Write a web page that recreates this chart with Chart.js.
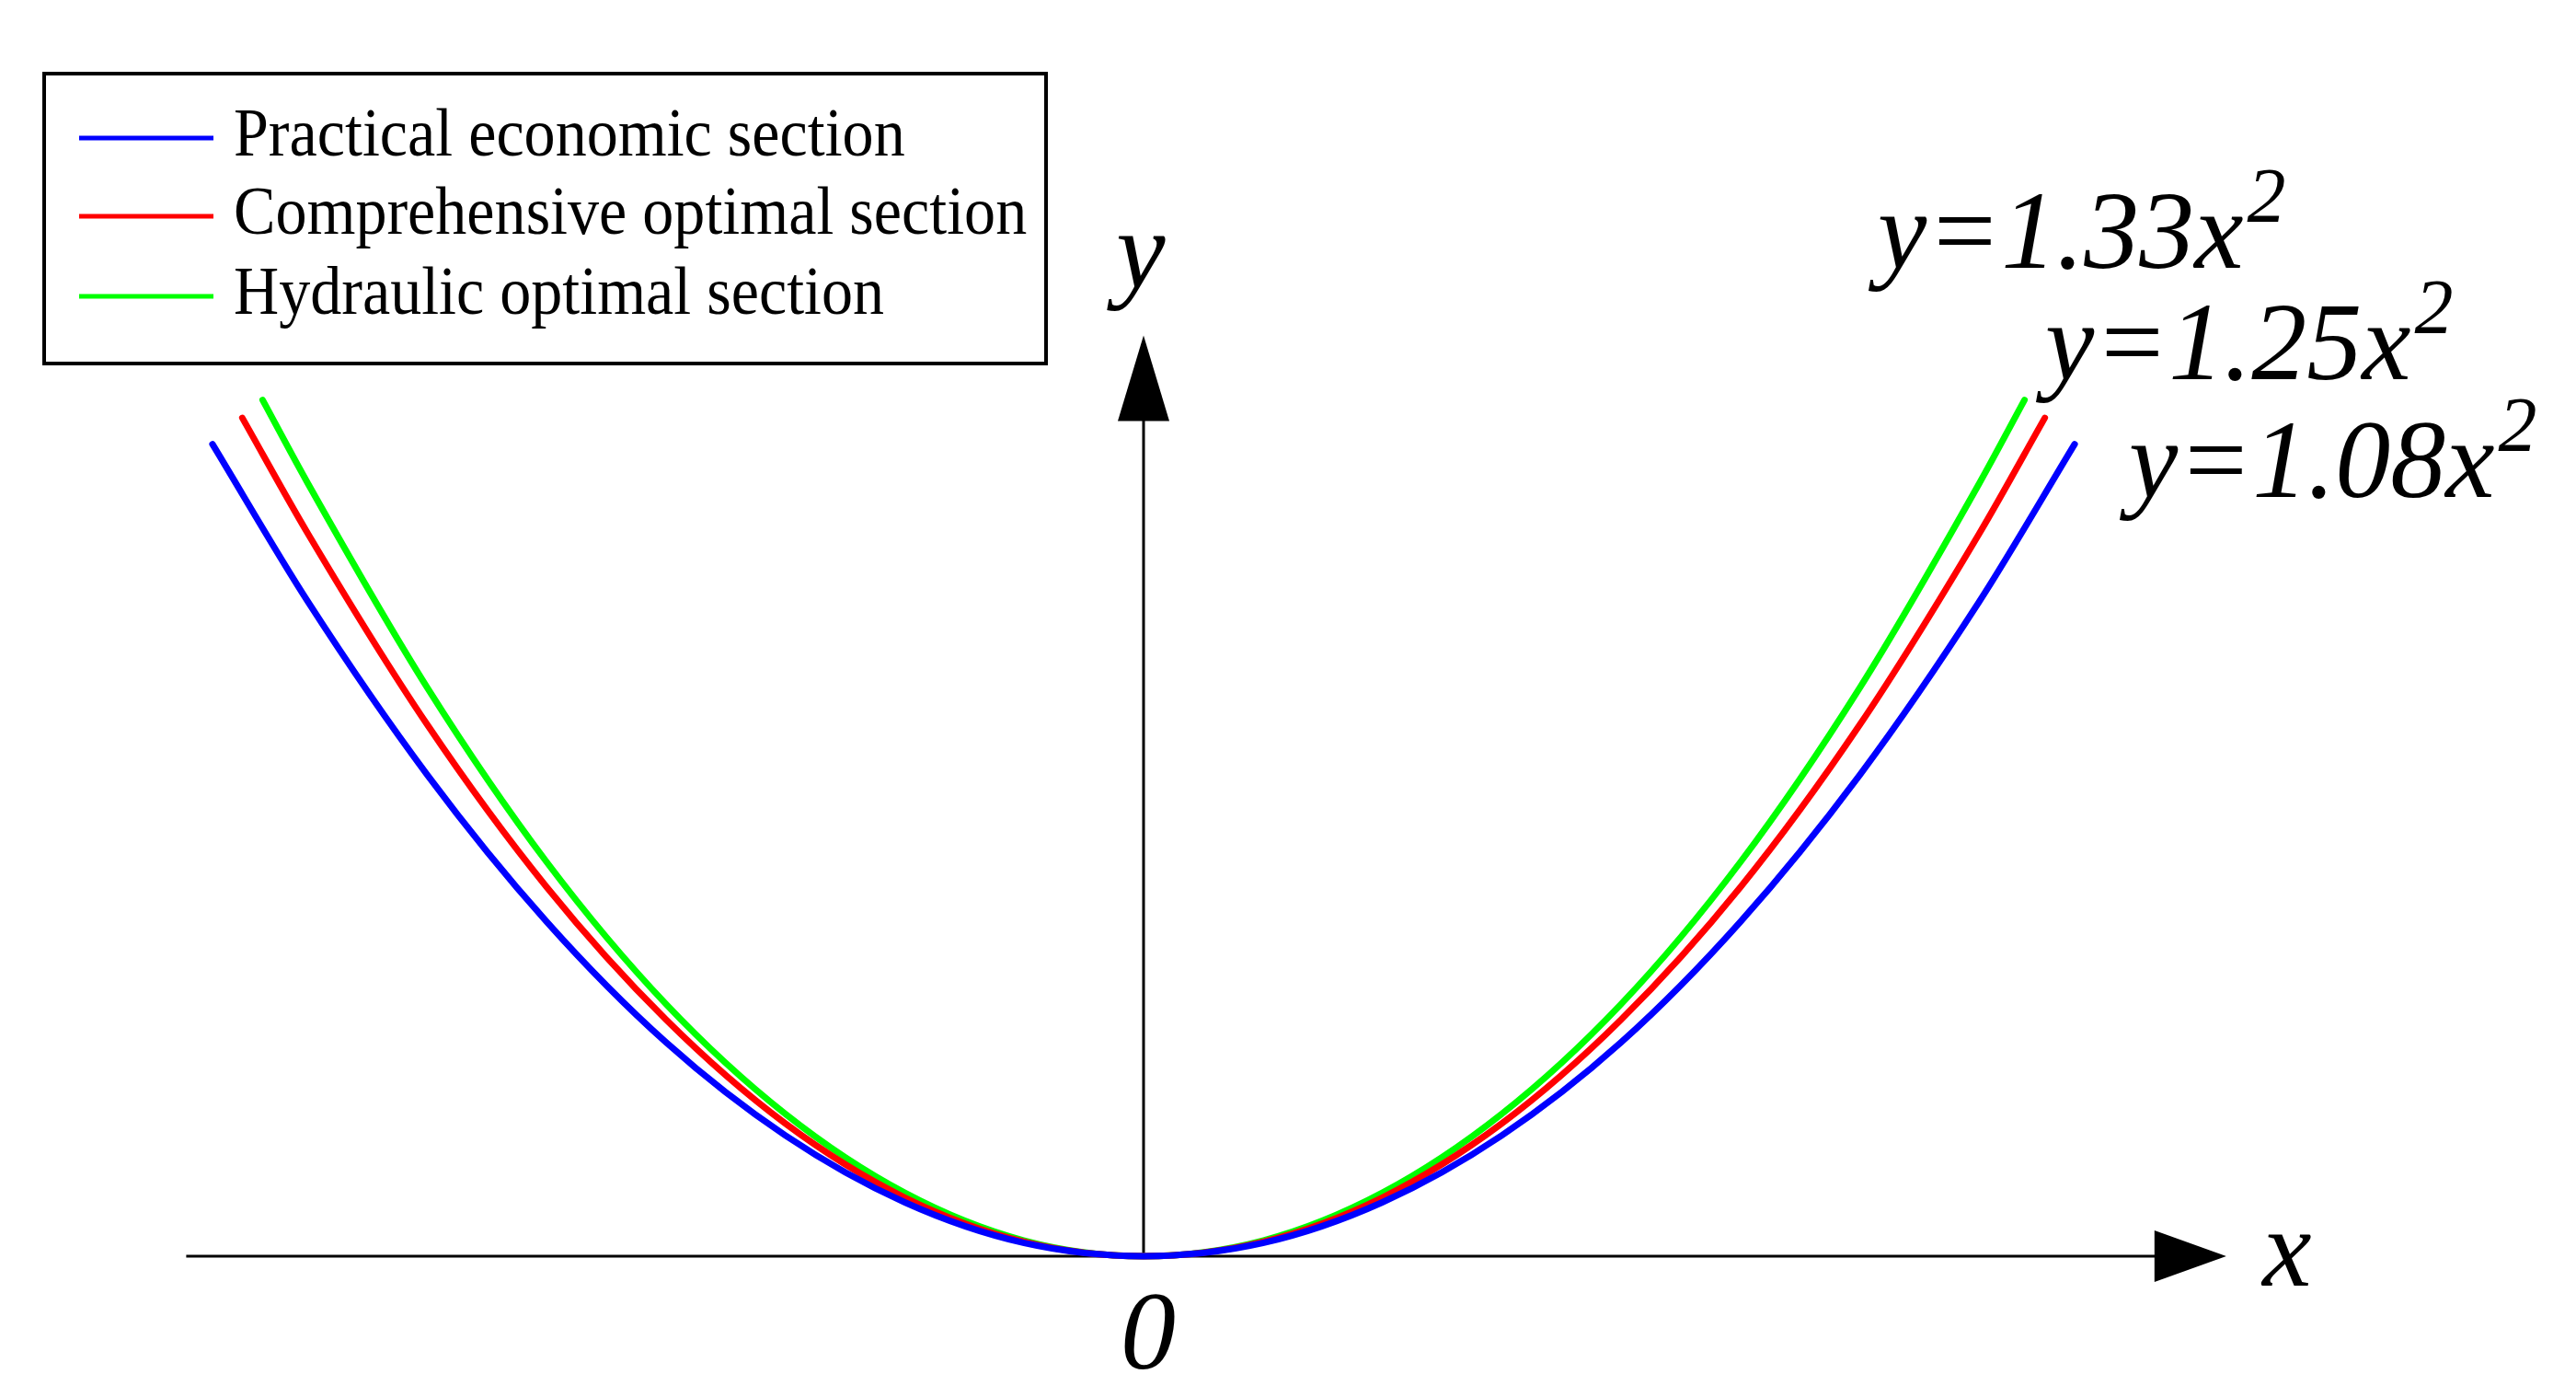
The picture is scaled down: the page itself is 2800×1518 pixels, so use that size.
<!DOCTYPE html>
<html lang="en">
  <head>
    <meta charset="UTF-8" />
    <title>Parabolic sections</title>
    <script src="https://cdn.jsdelivr.net/npm/chart.js"></script>
    <style>
      body { margin: 0; background: #fff; }
      #wrap { width: 2800px; height: 1518px; }
    </style>
  </head>
  <body>
    <div id="wrap"><canvas id="sectionChart"></canvas></div>
    <script>
      // values (x, y in the same units as the printed equations)
      const seriesNames = [
        "Practical economic section",
        "Comprehensive optimal section",
        "Hydraulic optimal section",
      ];
      const seriesColors = ["#0000ff", "#ff0000", "#00ff00"];
      const equationCoeffs = ["1.33", "1.25", "1.08"];

      const practicalX = [-0.78, -0.7, -0.6, -0.5, -0.4, -0.3, -0.2, -0.1, 0, 0.1, 0.2, 0.3, 0.4, 0.5, 0.6, 0.7, 0.78];
      const practicalY = [0.68, 0.548, 0.403, 0.28, 0.179, 0.101, 0.045, 0.011, 0, 0.011, 0.045, 0.101, 0.179, 0.28, 0.403, 0.548, 0.68];

      const comprehensiveX = [-0.755, -0.7, -0.6, -0.5, -0.4, -0.3, -0.2, -0.1, 0, 0.1, 0.2, 0.3, 0.4, 0.5, 0.6, 0.7, 0.755];
      const comprehensiveY = [0.702, 0.605, 0.445, 0.309, 0.198, 0.111, 0.049, 0.012, 0, 0.012, 0.049, 0.111, 0.198, 0.309, 0.445, 0.605, 0.702];

      const hydraulicX = [-0.738, -0.7, -0.6, -0.5, -0.4, -0.3, -0.2, -0.1, 0, 0.1, 0.2, 0.3, 0.4, 0.5, 0.6, 0.7, 0.738];
      const hydraulicY = [0.717, 0.647, 0.476, 0.33, 0.211, 0.119, 0.053, 0.013, 0, 0.013, 0.053, 0.119, 0.211, 0.33, 0.476, 0.647, 0.717];

      const toPoints = (xs, ys) => xs.map((v, i) => ({ x: v, y: ys[i] }));

      const serif = '"Liberation Serif", "Times New Roman", serif';

      const sketch = {
        id: "sketch",
        beforeDatasetsDraw(chart) {
          const { ctx } = chart;
          const sx = chart.scales.x;
          const sy = chart.scales.y;
          const ox = sx.getPixelForValue(0);
          const oy = sy.getPixelForValue(0);
          ctx.save();
          ctx.strokeStyle = "#000";
          ctx.fillStyle = "#000";
          ctx.lineWidth = 3;

          // x axis with arrow
          const x0 = sx.getPixelForValue(-0.802);
          const x1 = sx.getPixelForValue(0.907);
          ctx.beginPath();
          ctx.moveTo(x0, oy);
          ctx.lineTo(x1 - 60, oy);
          ctx.stroke();
          ctx.beginPath();
          ctx.moveTo(x1, oy);
          ctx.lineTo(x1 - 78, oy - 28);
          ctx.lineTo(x1 - 78, oy + 28);
          ctx.closePath();
          ctx.fill();

          // y axis with arrow
          const y1 = sy.getPixelForValue(0.771);
          ctx.beginPath();
          ctx.moveTo(ox, oy);
          ctx.lineTo(ox, y1 + 70);
          ctx.stroke();
          ctx.beginPath();
          ctx.moveTo(ox, y1);
          ctx.lineTo(ox - 28, y1 + 93);
          ctx.lineTo(ox + 28, y1 + 93);
          ctx.closePath();
          ctx.fill();
          ctx.restore();
        },
        afterDatasetsDraw(chart) {
          const { ctx } = chart;
          const ox = chart.scales.x.getPixelForValue(0);
          ctx.save();
          ctx.fillStyle = "#000";
          ctx.textBaseline = "alphabetic";

          // axis letters
          ctx.font = "italic 120px " + serif;
          ctx.textAlign = "center";
          ctx.fillText("y", ox - 3, 312);
          ctx.fillText("x", 2486, 1397);
          ctx.fillText("0", ox + 5, 1487);

          // equations
          ctx.textAlign = "left";
          const eqPos = [
            [2041, 291],
            [2223, 412],
            [2314, 540],
          ];
          equationCoeffs.forEach((c, i) => {
            const [ex, ey] = eqPos[i];
            ctx.font = "italic 120px " + serif;
            const txt = "y=" + c + "x";
            ctx.fillText(txt, ex, ey);
            const w = ctx.measureText(txt).width;
            ctx.font = "italic 84px " + serif;
            ctx.fillText("2", ex + w + 4, ey - 50);
          });

          // legend box
          ctx.strokeStyle = "#000";
          ctx.lineWidth = 4;
          ctx.strokeRect(48, 80, 1089, 315);
          const rows = [150, 235, 322];
          chart.data.datasets.forEach((ds, i) => {
            ctx.strokeStyle = ds.borderColor;
            ctx.lineWidth = 5;
            ctx.beginPath();
            ctx.moveTo(86, rows[i]);
            ctx.lineTo(232, rows[i]);
            ctx.stroke();
            ctx.save();
            ctx.translate(254, rows[i] + 19);
            ctx.scale(0.92, 1);
            ctx.font = "74px " + serif;
            ctx.fillStyle = "#000";
            ctx.fillText(ds.label, 0, 0);
            ctx.restore();
          });
          ctx.restore();
        },
      };

      const ctx = document.getElementById("sectionChart").getContext("2d");
      new Chart(ctx, {
        type: "line",
        data: {
          datasets: [
            { label: seriesNames[0], data: toPoints(practicalX, practicalY), borderColor: seriesColors[0] },
            { label: seriesNames[1], data: toPoints(comprehensiveX, comprehensiveY), borderColor: seriesColors[1] },
            { label: seriesNames[2], data: toPoints(hydraulicX, hydraulicY), borderColor: seriesColors[2] },
          ],
        },
        options: {
          responsive: true,
          maintainAspectRatio: false,
          animation: false,
          layout: { padding: 0 },
          elements: {
            point: { radius: 0 },
            line: { borderWidth: 7, cubicInterpolationMode: "monotone", fill: false, borderCapStyle: "round" },
          },
          scales: {
            x: { type: "linear", display: false, min: -0.958, max: 1.2 },
            y: { type: "linear", display: false, min: -0.118, max: 1.052 },
          },
          plugins: {
            legend: { display: false },
            tooltip: { enabled: false },
          },
        },
        plugins: [sketch],
      });
    </script>
  </body>
</html>
